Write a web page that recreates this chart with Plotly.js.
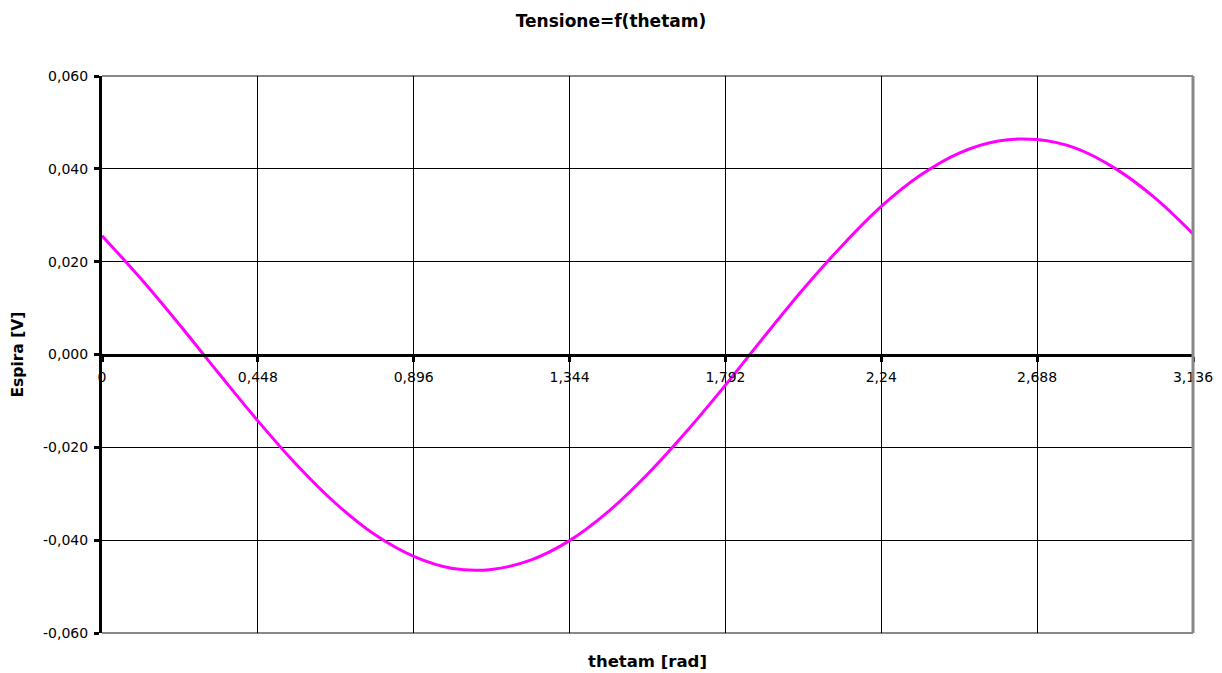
<!DOCTYPE html>
<html>
<head>
<meta charset="utf-8">
<script src="https://cdn.plot.ly/plotly-3.0.1.min.js"></script>
<style>html,body{margin:0;padding:0;background:#fff;}#chart{width:1222px;height:673px;}</style>
</head>
<body>
<div id="chart"></div>
<script>
// thetam [rad]
const thetam = [0, 0.112, 0.224, 0.336, 0.448, 0.56, 0.672, 0.784, 0.896, 1.008, 1.12, 1.232, 1.344, 1.456, 1.568, 1.68, 1.792, 1.904, 2.016, 2.128, 2.24, 2.352, 2.464, 2.576, 2.688, 2.8, 2.912, 3.024, 3.136];
// Espira [V]
const espira = [0.0256, 0.0163, 0.0063, -0.0041, -0.0143, -0.0238, -0.0321, -0.0388, -0.0435, -0.0461, -0.0463, -0.0443, -0.0401, -0.0338, -0.0258, -0.0166, -0.0066, 0.0039, 0.0141, 0.0235, 0.0319, 0.0386, 0.0434, 0.0460, 0.0463, 0.0444, 0.0401, 0.0339, 0.0260];

const xTickVals = [0, 0.448, 0.896, 1.344, 1.792, 2.24, 2.688, 3.136];
const xTickText = ["0", "0,448", "0,896", "1,344", "1,792", "2,24", "2,688", "3,136"];
const yTickVals = [-0.06, -0.04, -0.02, 0, 0.02, 0.04, 0.06];
const yTickText = ["-0,060", "-0,040", "-0,020", "0,000", "0,020", "0,040", "0,060"];

const font = "DejaVu Sans, Verdana, sans-serif";

const trace = {
  x: thetam, y: espira, type: 'scatter', mode: 'lines',
  line: {color: '#ff00ff', width: 3, shape: 'spline', smoothing: 1},
  hoverinfo: 'x+y', showlegend: false
};

const layout = {
  width: 1222, height: 673,
  margin: {l: 102, r: 29, t: 76, b: 40, pad: 0},
  paper_bgcolor: '#ffffff', plot_bgcolor: '#ffffff',
  font: {family: font, color: '#000', size: 14},
  title: {text: '<b>Tensione=f(thetam)</b>', font: {family: font, size: 17, color: '#000'}, x: 0.5, xref: 'container', xanchor: 'center', y: 0.968, yref: 'container', yanchor: 'middle'},
  xaxis: {
    range: [0, 3.136], tickmode: 'array', tickvals: xTickVals, ticktext: xTickText,
    showgrid: true, gridcolor: '#000', gridwidth: 1,
    showline: true, linecolor: '#000', linewidth: 3,
    ticks: 'outside', ticklen: 5, tickwidth: 3, tickcolor: '#000',
    ticklabelstandoff: 4,
    anchor: 'free', position: 0.5, zeroline: false,
    tickfont: {family: font, size: 14, color: '#000'},
    title: {text: ''}
  },
  yaxis: {
    range: [-0.06, 0.06], tickmode: 'array', tickvals: yTickVals, ticktext: yTickText,
    showgrid: true, gridcolor: '#000', gridwidth: 1,
    showline: true, linecolor: '#000', linewidth: 3,
    ticks: 'outside', ticklen: 5, tickwidth: 3, tickcolor: '#000',
    ticklabelstandoff: 3,
    zeroline: false,
    tickfont: {family: font, size: 14, color: '#000'},
    title: {text: ''}
  },
  shapes: [
    {type: 'line', xref: 'paper', yref: 'paper', x0: 0, x1: 1, y0: 1, y1: 1, line: {color: '#888', width: 2}, layer: 'below'},
    {type: 'line', xref: 'paper', yref: 'paper', x0: 0, x1: 1, y0: 0, y1: 0, line: {color: '#888', width: 2}, layer: 'below'},
    {type: 'line', xref: 'paper', yref: 'paper', x0: 1, x1: 1, y0: 0, y1: 1, line: {color: '#888', width: 3}, layer: 'above'}
  ],
  annotations: [
    {text: '<b>thetam [rad]</b>', xref: 'paper', yref: 'paper', x: 0.5, y: -0.052, xanchor: 'center', yanchor: 'middle', showarrow: false, font: {family: font, size: 16.5, color: '#000'}},
    {text: '<b>Espira [V]</b>', xref: 'paper', yref: 'paper', x: -0.077, y: 0.5, xanchor: 'center', yanchor: 'middle', textangle: -90, showarrow: false, font: {family: font, size: 15.5, color: '#000'}}
  ]
};

Plotly.newPlot('chart', [trace], layout, {displayModeBar: false, staticPlot: true});
</script>
</body>
</html>
